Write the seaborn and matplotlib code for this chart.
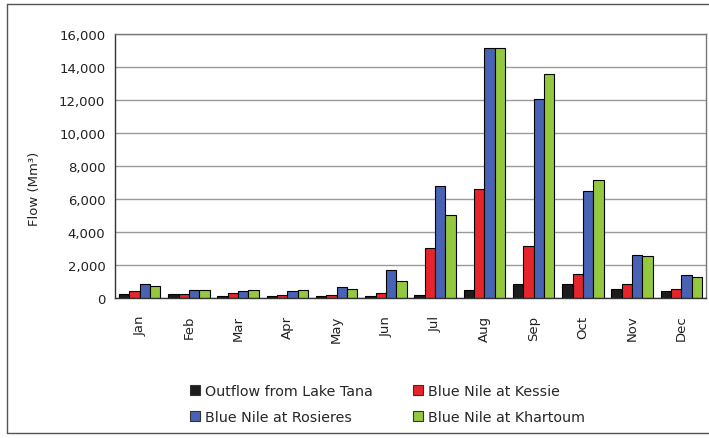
import matplotlib
matplotlib.use("Agg")
import matplotlib.pyplot as plt
import seaborn as sns
import pandas as pd
from matplotlib.lines import Line2D
from matplotlib.patches import Patch

months = ["Jan", "Feb", "Mar", "Apr", "May", "Jun", "Jul", "Aug", "Sep", "Oct", "Nov", "Dec"]
series_names = ["Outflow from Lake Tana", "Blue Nile at Kessie",
                "Blue Nile at Rosieres", "Blue Nile at Khartoum"]
tana = [250, 250, 140, 100, 140, 140, 200, 480, 850, 850, 570, 400]
kessie = [450, 250, 300, 200, 200, 300, 3030, 6600, 3150, 1450, 850, 560]
rosieres = [870, 500, 400, 400, 650, 1700, 6780, 15150, 12060, 6480, 2600, 1390]
khartoum = [700, 500, 500, 500, 570, 1030, 5030, 15150, 13580, 7150, 2540, 1290]
yticks = [0, 2000, 4000, 6000, 8000, 10000, 12000, 14000, 16000]
colors = ["#1c1c1c", "#e5252b", "#4863b3", "#93c83f"]

rows = []
for name, vals in zip(series_names, [tana, kessie, rosieres, khartoum]):
    for m, v in zip(months, vals):
        rows.append({"Month": m, "Flow": v, "Series": name})
df = pd.DataFrame(rows)

sns.set_style("white")
plt.rcParams["font.family"] = ["DejaVu Sans"]

W, H = 709, 439
fig = plt.figure(figsize=(W / 100, H / 100), dpi=100)
L, R, T, B = 115, 706, 35, 299
ax = fig.add_axes([L / W, 1 - B / H, (R - L) / W, (B - T) / H])

sns.barplot(data=df, x="Month", y="Flow", hue="Series", order=months,
            hue_order=series_names, palette=colors, width=0.84,
            edgecolor="black", linewidth=0.8, saturation=1, ax=ax, legend=False)

ax.set_xlim(-0.5, 11.5)
ax.set_ylim(0, 16000)
ax.set_yticks(yticks)
ax.set_yticklabels([f"{v:,}" for v in yticks], fontsize=9.5, color="#222222")
ax.yaxis.grid(True, color="#999999", linewidth=1.0)
ax.set_axisbelow(True)

ax.set_xticks([i - 0.5 for i in range(13)], minor=False)
ax.set_xticklabels([""] * 13)
ax.set_xticks(range(12), minor=True)
ax.set_xticklabels(months, minor=True, rotation=90, fontsize=9.5, color="#222222")
ax.tick_params(axis="x", which="major", direction="out", length=6, width=1, color="#333333")
ax.tick_params(axis="x", which="minor", length=0, pad=12)
ax.tick_params(axis="y", direction="out", length=5, width=1, color="#333333", pad=2)

for s in ["left", "bottom"]:
    ax.spines[s].set_color("#333333")
    ax.spines[s].set_linewidth(1.0)
for s in ["top", "right"]:
    ax.spines[s].set_visible(True)
    ax.spines[s].set_color("#777777")
    ax.spines[s].set_linewidth(1.0)

ax.set_xlabel("")
ax.set_ylabel("Flow (Mm³)", fontsize=9.5, color="#222222")
ax.yaxis.set_label_coords((41 - L) / (R - L), (B - 189) / (B - T))

order = [0, 2, 1, 3]
handles = [Patch(facecolor=colors[i], edgecolor="#333333", linewidth=0.8) for i in order]
labels = [series_names[i] for i in order]
fig.legend(handles, labels, ncol=2, frameon=False, fontsize=10.3,
           loc="center left", bbox_to_anchor=(190 / W, 1 - 405 / H),
           handlelength=0.7, handleheight=0.7, handletextpad=0.35,
           columnspacing=2.8, labelspacing=0.85, borderpad=0, borderaxespad=0)

# outer frame
fc = "#555555"
fig.add_artist(Line2D([7 / W, 7 / W], [1 - 5 / H, 1 - 434 / H], color=fc, lw=1.0, transform=fig.transFigure))
fig.add_artist(Line2D([7 / W, 1.0], [1 - 5 / H, 1 - 5 / H], color=fc, lw=1.0, transform=fig.transFigure))
fig.add_artist(Line2D([7 / W, 1.0], [1 - 434 / H, 1 - 434 / H], color=fc, lw=1.0, transform=fig.transFigure))

fig.savefig("out.png", dpi=100)
